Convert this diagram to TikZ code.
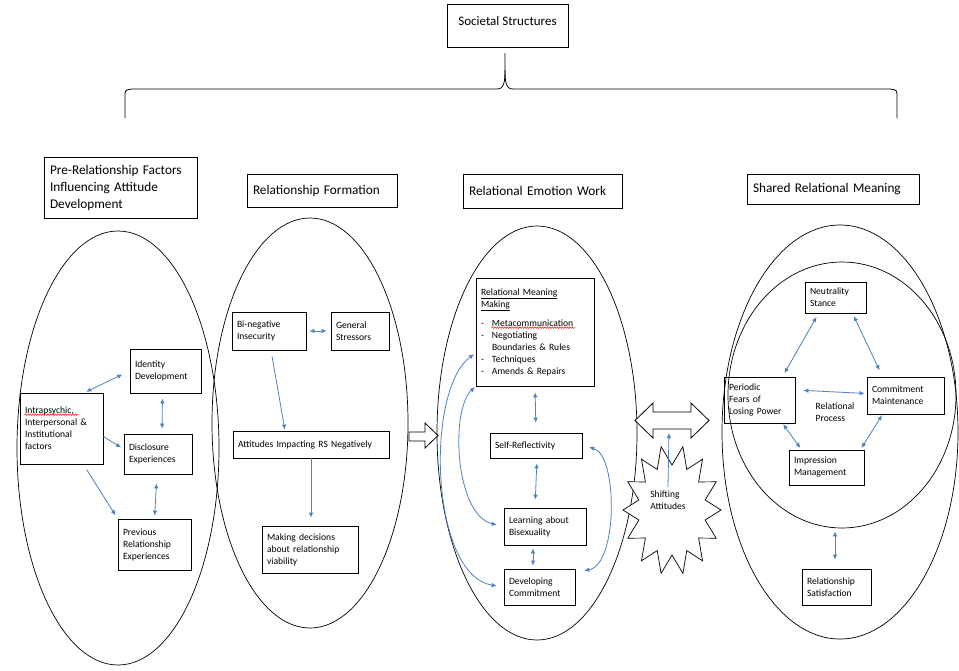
\documentclass[tikz,border=0pt]{standalone}
\usepackage{fontspec}
\setmainfont{Carlito}
\usetikzlibrary{arrows.meta,shapes.geometric,decorations.pathmorphing}

\definecolor{linkblue}{RGB}{79,129,189}
\newcommand\headfont{\fontsize{13.3}{17}\selectfont}
\newcommand\boxfont{\fontsize{9.6}{12}\selectfont}
\newcommand\dashitem{\makebox[11pt][l]{-}}

\tikzset{
  head/.style={draw, line width=0.8pt, font=\headfont, align=left, inner xsep=6pt},
  box/.style={draw, line width=0.8pt, font=\boxfont, align=left, inner xsep=5pt, inner ysep=2pt},
  blob/.style={draw, ellipse, line width=0.7pt, inner sep=0pt},
  link/.style={draw=linkblue, line width=0.8pt},
  hollow/.style={draw, line width=0.8pt, fill=white, line join=miter},
  squiggle/.style={draw=red, line width=0.5pt, decorate, decoration={snake, amplitude=0.8pt, segment length=2.5pt}},
}

\begin{document}
\begin{tikzpicture}[x=1pt, y=-1pt, >={Latex[length=5pt,width=4.5pt]}]
  \useasboundingbox (0,0) rectangle (959,670);

  % top box and bracket
  \node[head, font=\fontsize{13}{15}\selectfont, align=center, minimum width=121pt, minimum height=43pt, text depth=10pt] (soc) at (507.5,25.5) {Societal Structures};
  \draw[line width=0.8pt] (125,118) -- (125,97) .. controls (125,90) .. (132,89) -- (497,89)
    .. controls (504,89) and (505,82) .. (505,70) -- (505,53);
  \draw[line width=0.8pt] (505,70) .. controls (505,82) and (506,89) .. (513,89) -- (890,89)
    .. controls (897,90) .. (897,97) -- (897,118);

  % stage titles
  \node[head, text width=141pt, minimum height=61pt] (t1) at (120.5,187.5)
    {Pre-Relationship Factors\\Influencing Attitude\\Development};
  \node[head, text width=138pt, minimum height=33pt] (t2) at (322,190.5) {Relationship Formation};
  \node[head, text width=147pt, minimum height=34pt] (t3) at (542.5,191) {Relational Emotion Work};
  \node[head, text width=160pt, minimum height=30pt] (t4) at (833,189) {Shared Relational Meaning};

  % ellipses
  \node[blob, minimum width=202pt, minimum height=434pt] (e1) at (118,448) {};
  \node[blob, minimum width=196pt, minimum height=410pt] (e2) at (310,423) {};
  \node[blob, minimum width=200pt, minimum height=414pt] (e3) at (537,433) {};
  \node[blob, minimum width=236pt, minimum height=414pt] (e4) at (840,432) {};
  \node[blob, minimum width=228pt, minimum height=266pt] (inner) at (842,395) {};

  % pre-relationship factors
  \node[box, text width=73pt, minimum height=71pt] (intra) at (61.5,428.5)
    {Intrapsychic,\\Interpersonal \&\\Institutional\\factors};
  \draw[squiggle] ([xshift=5pt,yshift=-22pt]intra.north west) -- ([xshift=59pt,yshift=-22pt]intra.north west);
  \node[box, text width=61pt, minimum height=44pt] (ident) at (165.5,371) {Identity\\Development};
  \node[box, text width=58pt, minimum height=40pt] (disc) at (158,454) {Disclosure\\Experiences};
  \node[box, text width=63pt, minimum height=51pt] (prev) at (154.5,544.5) {Previous\\Relationship\\Experiences};

  \draw[link, <->, shorten <=2pt, shorten >=8pt] ([xshift=-19pt]intra.north east) -- (ident.west);
  \draw[link, ->, shorten >=3pt] ([yshift=-8pt]intra.east) -- ([yshift=5pt]disc.west);
  \draw[link, ->, shorten <=6pt, shorten >=4pt] ([xshift=-20pt]intra.south east) -- (prev.north west);
  \draw[link, <->, shorten <=5pt, shorten >=5pt] ([xshift=-3pt]ident.south) -- ([xshift=4pt]disc.north);
  \draw[link, <->, shorten <=9pt, shorten >=3pt] ([xshift=-1pt]disc.south) -- (prev.north);

  % relationship formation
  \node[box, text width=64pt, minimum height=38pt] (bineg) at (269,331) {Bi-negative\\Insecurity};
  \node[box, text width=48pt, minimum height=38pt] (gen) at (360,331) {General\\Stressors};
  \node[box, text width=146pt, minimum height=27pt] (att) at (311,444.5) {Attitudes Impacting RS Negatively};
  \node[box, text width=86pt, minimum height=47pt] (mak) at (310,549.5) {Making decisions\\about relationship\\viability};

  \draw[link, <->, shorten <=3pt, shorten >=4pt] (bineg.east) -- (gen.west);
  \draw[link, ->, shorten <=6pt, shorten >=1pt] ([xshift=2pt]bineg.south) -- ([xshift=-26pt]att.north);
  \draw[link, ->, shorten >=8pt] (att.south) -- ([xshift=1pt]mak.north);

  \draw[hollow] (409,432) -- (425,432) -- (425,423) -- (438,435.5) -- (425,448) -- (425,441) -- (409,441) -- cycle;

  % relational emotion work
  \node[box, text width=108pt, minimum height=108pt] (rmm) at (535,332)
    {\underline{Relational Meaning}\\\underline{Making}\\[7pt]
     \dashitem Metacommunication\\
     \dashitem Negotiating\\
     \hspace*{11pt}Boundaries \& Rules\\
     \dashitem Techniques\\
     \dashitem Amends \& Repairs};
  \draw[squiggle] ([xshift=16pt,yshift=-50pt]rmm.north west) -- ([xshift=99pt,yshift=-50pt]rmm.north west);
  \node[box, text width=82pt, minimum height=25pt] (self) at (536,445.5) {Self-Reflectivity};
  \node[box, text width=72pt, minimum height=37pt] (learn) at (545,526.5) {Learning about\\Bisexuality};
  \node[box, text width=61pt, minimum height=36pt] (dev) at (539.5,587) {Developing\\Commitment};

  \draw[link, <->, shorten <=6pt, shorten >=10pt] (rmm.south) -- (self.north);
  \draw[link, <->, shorten <=5pt, shorten >=8pt] ([xshift=1pt]self.south) -- ([xshift=-10pt]learn.north);
  \draw[link, <->, shorten <=3pt, shorten >=3pt] ([xshift=-12pt]learn.south) -- ([xshift=-6.5pt]dev.north);
  \draw[link, <->, shorten <=2pt, shorten >=7pt] ([yshift=-21pt]rmm.west) .. controls (425,390) and (430,575) .. (dev.west);
  \draw[link, <->, shorten <=1pt, shorten >=7pt] (rmm.south west) .. controls (450,410) and (455,515) .. (learn.west);
  \draw[link, <->, shorten <=7pt, shorten >=9pt] (self.east) .. controls (618,455) and (618,565) .. ([yshift=15pt]dev.east);

  % shifting attitudes
  \draw[line width=0.7pt, fill=white, line join=miter]
    plot[samples at={0,...,27}, variable=\k]
      ({672+(mod(\k,2)==0 ? 49 : 34)*cos(\k*360/28)}, {510+(mod(\k,2)==0 ? 65 : 45)*sin(\k*360/28)}) -- cycle;
  \node[font=\boxfont, align=left] (shift) at (668,500) {Shifting\\Attitudes};
  \draw[hollow] (635,420.5) -- (653,403) -- (653,412) -- (691,412) -- (691,403) -- (709,420.5)
    -- (691,438) -- (691,429) -- (653,429) -- (653,438) -- cycle;
  \coordinate (dblb) at (669,431);
  \draw[link, ->, shorten >=2pt] (shift.north) -- (dblb);

  % shared relational meaning
  \node[box, text width=51pt, minimum height=31pt] (neut) at (835.5,297.5) {Neutrality\\Stance};
  \node[box, text width=61pt, minimum height=46pt] (per) at (759.5,400) {Periodic\\Fears of\\Losing Power};
  \node[box, text width=67pt, minimum height=37pt] (com) at (905.5,395.5) {Commitment\\Maintenance};
  \node[box, text width=65pt, minimum height=35pt] (imp) at (826.5,467.5) {Impression\\Management};
  \node[font=\boxfont, align=left] (proc) at (835,412) {Relational\\Process};
  \node[box, text width=59pt, minimum height=36pt] (sat) at (836.5,587) {Relationship\\Satisfaction};

  \draw[link, <->, shorten <=4pt, shorten >=4pt] ([xshift=-17pt]neut.south) -- ([xshift=23pt]per.north);
  \draw[link, <->, shorten <=3pt, shorten >=7pt] ([xshift=17pt]neut.south) -- ([xshift=-23pt]com.north);
  \draw[link, <->, shorten <=8pt, shorten >=2pt] ([yshift=10pt]per.east) -- ([yshift=2pt]com.west);
  \draw[link, <->, shorten <=1pt, shorten >=2pt] ([xshift=23pt]per.south) -- ([xshift=-25pt]imp.north);
  \draw[link, <->, shorten <=1pt, shorten >=2pt] ([xshift=-23pt]com.south) -- ([xshift=34pt]imp.north);
  \draw[link, <->, shorten <=3pt, shorten >=9pt] ([xshift=-7pt]inner.south) -- ([xshift=-1.5pt]sat.north);
\end{tikzpicture}
\end{document}
